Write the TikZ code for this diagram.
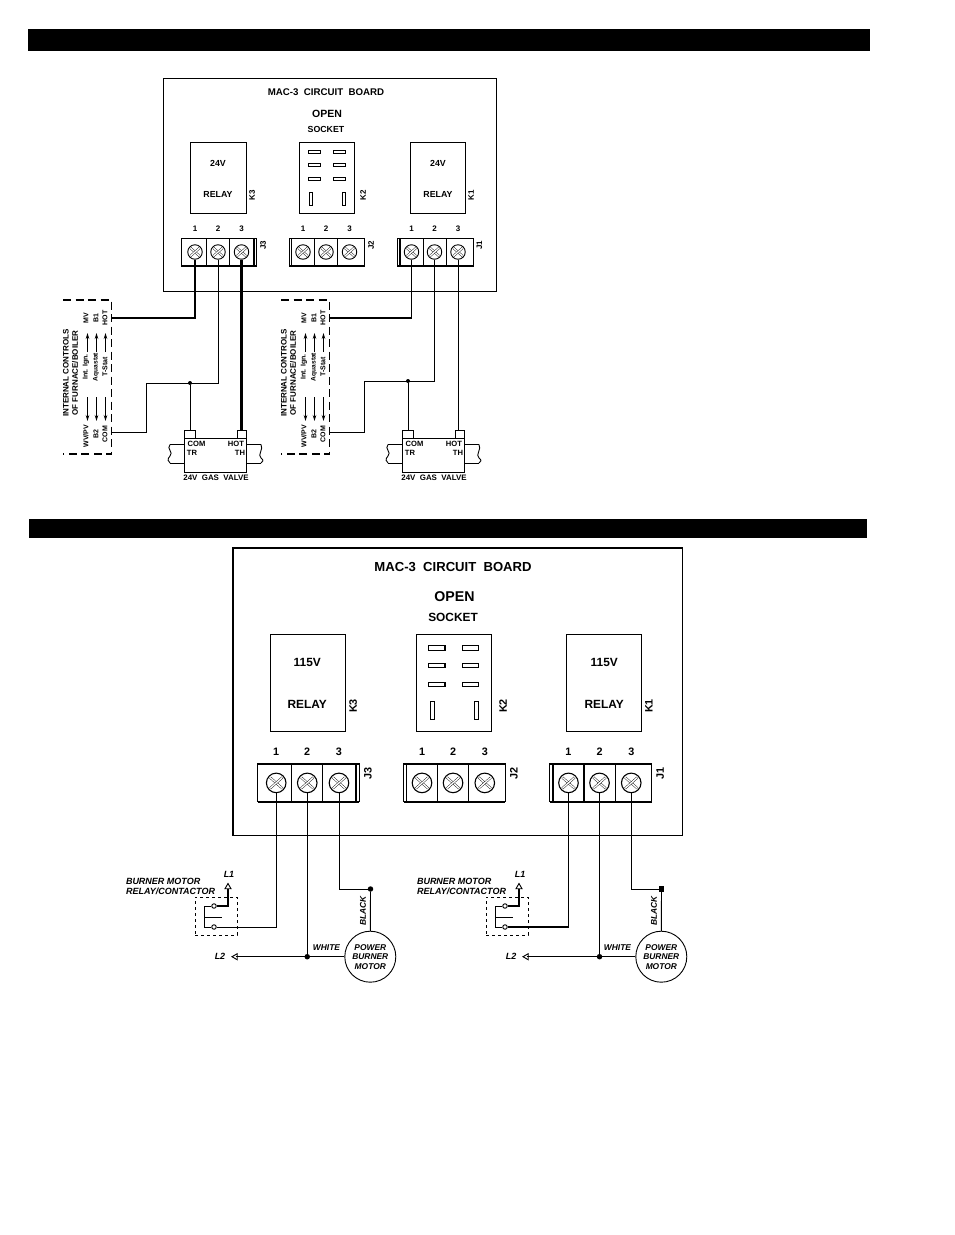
\documentclass[tikz,border=0pt]{standalone}
\usepackage{fontspec}
\setmainfont{Liberation Sans}
\usetikzlibrary{shapes, arrows.meta, positioning}

\tikzset{
    lbl/.style={inner sep=0pt, font=\fontsize{8.8}{9.5}\selectfont\bfseries},
    lblb/.style={inner sep=0pt, font=\fontsize{8}{9}\selectfont\bfseries},
    lblv/.style={lblb, rotate=90, align=center},
    lblc/.style={lblv, font=\fontsize{7}{9.2}\selectfont\bfseries},
    lblg/.style={lblb, font=\fontsize{7.6}{8}\selectfont\bfseries},
    lbli/.style={inner sep=0pt, align=left, font=\fontsize{9}{10}\selectfont\bfseries\itshape},
    bar/.style={fill=black, draw=none, inner sep=0pt},
    relaybox/.style={draw, minimum width=55.5pt, minimum height=71.5pt, inner sep=0pt},
    tblock/.style={draw, minimum width=75.5pt, minimum height=28pt, inner sep=0pt},
    screw/.style={draw, circle, minimum size=14.5pt, inner sep=0pt},
    dot/.style={fill=black, circle, minimum size=5.5pt, inner sep=0pt},
    contact/.style={draw, circle, minimum size=4.5pt, inner sep=0pt},
    tip/.style={draw, regular polygon, regular polygon sides=3, minimum size=8pt, inner sep=0pt},
    wirethin/.style={line width=.9pt},
    wiremid/.style={line width=1.4pt},
    wirethick/.style={line width=2.2pt},
    ctlarrow/.style={line width=.7pt, -{Stealth[length=6pt,width=3.5pt]}},
    pics/board/.style={code={
        \node[draw, minimum width=333pt, minimum height=213pt, inner sep=0pt] (frame) at (166.5,106.5) {};
        \node[lbl, font=\fontsize{9.7}{10}\selectfont\bfseries] (title) at (163,14) {MAC-3 \ CIRCUIT \ BOARD};
        \node[lbl, font=\fontsize{10.5}{11}\selectfont\bfseries] (open) at (164,36) {OPEN};
        \node[lbl] (sock) at (163,51.5) {SOCKET};
        \node[relaybox] (k3) at (55.5,100) {};
        \node[relaybox] (k2) at (164,100) {};
        \node[relaybox] (k1) at (274.7,100) {};
        \node[lbl] (va) at (55,85) {#1};
        \node[lbl] (ra) at (55,116) {RELAY};
        \node[lbl] (vb) at (275,85) {#1};
        \node[lbl] (rb) at (275,116) {RELAY};
        \node[lblv] (lk3) at (89,117) {K3};
        \node[lblv] (lk2) at (200,117) {K2};
        \node[lblv] (lk1) at (308,117) {K1};
        \foreach \sy in {74,87,101} {
            \draw (145,\sy-1.7) rectangle (157,\sy+1.7);
            \draw (170,\sy-1.7) rectangle (182,\sy+1.7);
        }
        \draw (146,114) rectangle (149,127);
        \draw (179,114) rectangle (182,127);
        \foreach \jn/\jx/\jb in {3/56/35, 2/164/-35.5, 1/272.5/-35.5} {
            \node[tblock] (j\jn) at (\jx,174) {};
            \node[lblv] (lj\jn) at (\jx+44,167) {J\jn};
            \draw[line width=1.6pt] (\jx+\jb,160) -- (\jx+\jb,188);
            \draw[line width=1.4pt] (\jx-37.7,188) -- (\jx+37.7,188);
            \draw (\jx-12.5,160) -- (\jx-12.5,188);
            \draw (\jx+10.5,160) -- (\jx+10.5,188);
            \foreach \tn/\tx in {1/-24,2/-1,3/22.5} {
                \node[lblb] (n\jn\tn) at (\jx+\tx,151) {\tn};
                \node[screw] (j\jn\tn) at (\jx+\tx,174) {};
                \draw[double, line width=.4pt, double distance=1.4pt] (\jx+\tx-4.5,170) -- (\jx+\tx+4.5,178);
                \draw[double, line width=.4pt, double distance=1.4pt] (\jx+\tx-4.5,178) -- (\jx+\tx+4.5,170);
            }
        }
    }},
    pics/controls/.style={code={
        \draw[line width=1.1pt, dash pattern=on 8pt off 4.5pt] (63,300) -- (111.5,300) -- (111.5,454) -- (63,454);
        \coordinate (hot) at (111.5,318);
        \coordinate (com) at (111.5,432);
        \node[lblc, font=\fontsize{8}{9.3}\selectfont\bfseries] (title) at (70.5,373) {INTERNAL CONTROLS\\OF FURNACE/BOILER};
        \node[lblc] (tmv) at (86,318) {MV};
        \node[lblc] (tb1) at (96,318) {B1};
        \node[lblc] (thot) at (105,318) {HOT};
        \node[lblc] (twv) at (86,436) {WV/PV};
        \node[lblc] (tb2) at (96,434) {B2};
        \node[lblc] (tcom) at (105,434) {COM};
        \node[lblc] (tint) at (86,367) {Int. Ign.};
        \node[lblc, font=\fontsize{6.6}{9.2}\selectfont\bfseries] (taq) at (96,367) {Aquastat};
        \node[lblc] (tst) at (105,367) {T-Stat};
        \foreach \cx in {87.5,96.5,105.5} {
            \draw[ctlarrow] (\cx,352) -- (\cx,333);
            \draw[ctlarrow] (\cx,397) -- (\cx,421);
        }
    }},
    pics/valve/.style={code={
        \node[draw, minimum width=62.7pt, minimum height=33.5pt, inner sep=0pt] (body) at (215.4,455.5) {};
        \node[draw, minimum width=11.5pt, minimum height=8.5pt, inner sep=0pt] (com) at (190,434.5) {};
        \node[draw, minimum width=9pt, minimum height=8.5pt, inner sep=0pt] (hot) at (242.2,434.5) {};
        \node[lblg] (tcom) at (196.5,443.5) {COM};
        \node[lblg] (thot) at (236,443.5) {HOT};
        \node[lblg] (ttr) at (192,453) {TR};
        \node[lblg] (tth) at (240,453) {TH};
        \node[lblg, font=\fontsize{7.9}{8}\selectfont\bfseries] (tgas) at (216,478) {24V \ GAS \ VALVE};
        \draw (170,444.5) -- (184,444.5);
        \draw (170,463) -- (184,463);
        \draw (170,444.5) .. controls (166,449) and (174,452) .. (170,456) .. controls (167,459) and (168,462) .. (170,463);
        \draw (246.7,444.5) -- (261,444.5);
        \draw (246.7,463) -- (261,463);
        \draw (261,444.5) .. controls (264,449) and (257,455) .. (261,458) .. controls (264,460) and (263,462) .. (261,463);
    }},
    pics/motorset/.style={code={
        \node[draw, dashed, minimum width=42pt, minimum height=38pt, inner sep=0pt] (cbox) at (216,916) {};
        \node[lbli] (tbm) at (170.5,886) {BURNER MOTOR\\RELAY/CONTACTOR};
        \node[lbli] (tl1) at (229,874.5) {L1};
        \node[lbli] (tl2) at (220,956.5) {L2};
        \node[tip, minimum size=7pt] (l1) at (228,887) {};
        \node[tip, rotate=90, minimum size=7pt] (l2) at (235.5,956.7) {};
        \node[contact] (cup) at (214,906) {};
        \node[contact] (clo) at (214,927) {};
        \draw[wiremid] (cup.east) -| (l1.south);
        \draw (cup.west) -- (204.7,906) -- (204.7,927) -- (clo.west);
        \draw (204.7,917) -- (221.7,917);
        \node[draw, circle, minimum size=51pt, inner sep=0pt, align=center, font=\fontsize{8.4}{9.6}\selectfont\bfseries\itshape] (motor) at (370.3,956.7) {POWER\\BURNER\\MOTOR};
        \draw (l2.east |- motor.west) -- (motor.west);
        \node[lblv, font=\fontsize{8.4}{9}\selectfont\bfseries\itshape] (tblack) at (363,911) {BLACK};
        \node[lbli, font=\fontsize{8.4}{9}\selectfont\bfseries\itshape] (twhite) at (326.5,948) {WHITE};
    }}
}

\begin{document}
\begin{tikzpicture}[x=1pt, y=-1pt]
    \useasboundingbox (0,0) rectangle (954,1235);

    % header bars
    \node[bar, minimum width=842pt, minimum height=22pt] (bartop) at (449,40) {};
    \node[bar, minimum width=838pt, minimum height=19pt] (barbot) at (448,528.5) {};

    % 24V boards
    \pic[line width=.9pt] (top) at (163,78) {board={24V}};
    \pic (ca) at (0,0) {controls};
    \pic (cb) at (218,0) {controls};
    \pic[line width=.9pt] (va) at (0,0) {valve};
    \pic[line width=.9pt] (vb) at (218,0) {valve};

    \coordinate (teea) at (146.7,383);
    \coordinate (teeb) at (364.2,381);
    \node[dot, minimum size=4pt] (juna) at (vacom |- teea) {};
    \node[dot, minimum size=4pt] (junb) at (vbcom |- teeb) {};

    \draw[wiremid] (topj31.south) |- (cahot);
    \draw[wirethin] (topj32.south) |- (teea) |- (cacom);
    \draw[wirethin] (juna) -- (vacom.north);
    \draw[wirethick] (topj33.south) -- (topj33.south |- vahot.north);

    \draw[wiremid] (topj11.south) |- (cbhot);
    \draw[wirethin] (topj12.south) |- (teeb) |- (cbcom);
    \draw[wirethin] (junb) -- (vbcom.north);
    \draw[wirethin] (topj13.south) -- (topj13.south |- vbhot.north);

    % 115V board
    \pic[scale=1.35, transform shape, line width=1.1pt] (bot) at (233,548) {board={115V}};
    \pic[line width=.9pt] (ma) at (0,0) {motorset};
    \pic[line width=.9pt] (mb) at (291,0) {motorset};

    \node[dot] (whitea) at (botj32 |- mal2) {};
    \node[dot] (whiteb) at (botj12 |- mbl2) {};
    \node[dot] (blacka) at (370.5,889) {};
    \node[dot, rectangle] (blackb) at (661.5,889) {};

    \draw[wirethin] (botj31.south) |- (maclo.east);
    \draw[wirethin] (botj32.south) -- (whitea);
    \draw[wirethin] (botj33.south) |- (blacka);
    \draw[wirethin] (blacka) -- (mamotor.north);

    \draw[wiremid] (botj11.south) |- (mbclo.east);
    \draw[wirethin] (botj12.south) -- (whiteb);
    \draw[wirethin] (botj13.south) |- (blackb);
    \draw[wirethin] (blackb) -- (mbmotor.north);
\end{tikzpicture}
\end{document}
